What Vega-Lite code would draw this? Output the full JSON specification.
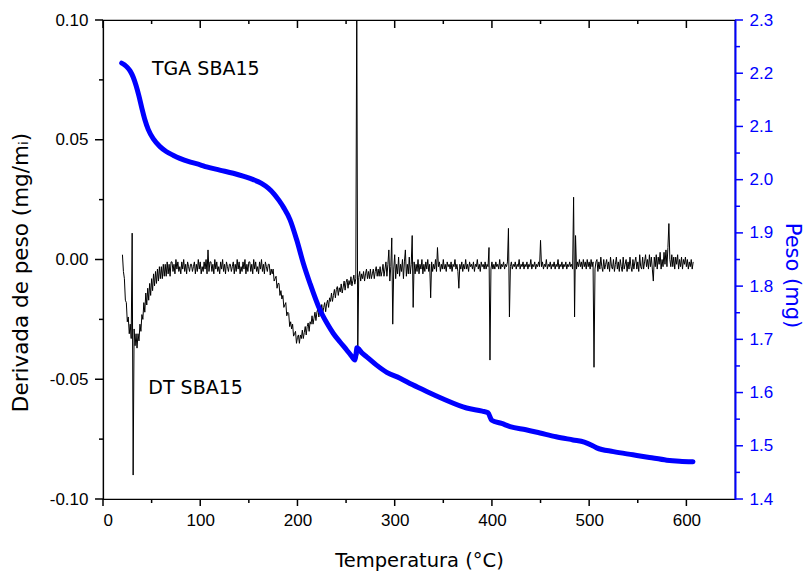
{
  "$schema": "https://vega.github.io/schema/vega-lite/v6.json",
  "width": 632,
  "height": 479,
  "autosize": {"type": "none"},
  "padding": {"left": 103, "top": 20, "right": 69, "bottom": 72},
  "background": "white",
  "config": {
    "view": {"stroke": "black", "strokeWidth": 1.2},
    "axis": {
      "grid": false,
      "ticks": false,
      "labelFont": "Liberation Sans",
      "labelFontSize": 17,
      "titleFont": "DejaVu Sans",
      "titleFontSize": 21,
      "titleFontWeight": "normal",
      "labelColor": "black",
      "titleColor": "black",
      "domainColor": "black",
      "domainWidth": 1.2
    }
  },
  "datasets": {
    "dt": [
      {"t":20,"d":0.002},{"t":21,"d":-0.005},{"t":22,"d":-0.008},{"t":23,"d":-0.017},{"t":24,"d":-0.018},
      {"t":25,"d":-0.026},{"t":26,"d":-0.024},{"t":27,"d":-0.031},{"t":28,"d":-0.027},{"t":29,"d":-0.033},
      {"t":30,"d":0.011},{"t":31,"d":-0.090},{"t":32,"d":-0.029},{"t":33,"d":-0.036},{"t":34,"d":-0.031},
      {"t":35,"d":-0.037},{"t":36,"d":-0.031},{"t":37,"d":-0.034},{"t":38,"d":-0.027},{"t":39,"d":-0.030},
      {"t":40,"d":-0.023},{"t":41,"d":-0.025},{"t":42,"d":-0.018},{"t":43,"d":-0.022},{"t":44,"d":-0.014},
      {"t":45,"d":-0.019},{"t":46,"d":-0.012},{"t":47,"d":-0.017},{"t":48,"d":-0.010},{"t":49,"d":-0.015},
      {"t":50,"d":-0.008},{"t":51,"d":-0.013},{"t":52,"d":-0.006},{"t":53,"d":-0.011},{"t":54,"d":-0.005},
      {"t":55,"d":-0.010},{"t":56,"d":-0.004},{"t":57,"d":-0.009},{"t":58,"d":-0.003},{"t":59,"d":-0.008},
      {"t":60,"d":-0.003},{"t":61,"d":-0.008},{"t":62,"d":-0.002},{"t":63,"d":-0.007},{"t":64,"d":-0.002},
      {"t":65,"d":-0.007},{"t":66,"d":-0.001},{"t":67,"d":-0.006},{"t":68,"d":-0.002},{"t":69,"d":-0.007},
      {"t":70,"d":-0.001},{"t":71,"d":-0.001},{"t":72,"d":-0.005},{"t":73,"d":-0.002},{"t":74,"d":-0.006},
      {"t":75,"d":0.000},{"t":76,"d":-0.004},{"t":77,"d":-0.001},{"t":78,"d":-0.005},{"t":79,"d":-0.003},
      {"t":80,"d":-0.006},{"t":81,"d":-0.001},{"t":82,"d":-0.004},{"t":83,"d":0.000},{"t":84,"d":-0.005},
      {"t":85,"d":-0.002},{"t":86,"d":-0.006},{"t":87,"d":-0.001},{"t":88,"d":-0.003},{"t":89,"d":-0.005},
      {"t":90,"d":-0.002},{"t":91,"d":-0.002},{"t":92,"d":-0.005},{"t":93,"d":-0.003},{"t":94,"d":-0.001},
      {"t":95,"d":-0.006},{"t":96,"d":-0.002},{"t":97,"d":-0.005},{"t":98,"d":0.000},{"t":99,"d":-0.004},
      {"t":100,"d":-0.001},{"t":101,"d":-0.006},{"t":102,"d":-0.003},{"t":103,"d":-0.005},{"t":104,"d":-0.001},
      {"t":105,"d":-0.004},{"t":106,"d":0.000},{"t":107,"d":-0.006},{"t":108,"d":0.004},{"t":109,"d":-0.005},
      {"t":110,"d":-0.001},{"t":111,"d":-0.001},{"t":112,"d":-0.005},{"t":113,"d":-0.002},{"t":114,"d":-0.006},
      {"t":115,"d":0.000},{"t":116,"d":-0.004},{"t":117,"d":-0.001},{"t":118,"d":-0.005},{"t":119,"d":-0.003},
      {"t":120,"d":-0.006},{"t":121,"d":-0.001},{"t":122,"d":-0.004},{"t":123,"d":0.000},{"t":124,"d":-0.005},
      {"t":125,"d":-0.002},{"t":126,"d":-0.006},{"t":127,"d":-0.001},{"t":128,"d":-0.003},{"t":129,"d":-0.005},
      {"t":130,"d":-0.002},{"t":131,"d":-0.002},{"t":132,"d":-0.005},{"t":133,"d":-0.003},{"t":134,"d":-0.001},
      {"t":135,"d":-0.006},{"t":136,"d":-0.002},{"t":137,"d":-0.005},{"t":138,"d":0.000},{"t":139,"d":-0.004},
      {"t":140,"d":-0.001},{"t":141,"d":-0.006},{"t":142,"d":-0.003},{"t":143,"d":-0.005},{"t":144,"d":-0.001},
      {"t":145,"d":-0.004},{"t":146,"d":0.000},{"t":147,"d":-0.006},{"t":148,"d":-0.002},{"t":149,"d":-0.005},
      {"t":150,"d":-0.001},{"t":151,"d":-0.001},{"t":152,"d":-0.005},{"t":153,"d":-0.002},{"t":154,"d":-0.006},
      {"t":155,"d":0.000},{"t":156,"d":-0.004},{"t":157,"d":-0.001},{"t":158,"d":-0.005},{"t":159,"d":-0.003},
      {"t":160,"d":-0.006},{"t":161,"d":-0.001},{"t":162,"d":-0.004},{"t":163,"d":0.000},{"t":164,"d":-0.005},
      {"t":165,"d":-0.002},{"t":166,"d":-0.006},{"t":167,"d":-0.001},{"t":168,"d":-0.003},{"t":169,"d":-0.005},
      {"t":170,"d":-0.002},{"t":171,"d":-0.002},{"t":172,"d":-0.0065},{"t":173,"d":-0.004},{"t":174,"d":-0.006},
      {"t":175,"d":-0.004},{"t":176,"d":-0.009},{"t":177,"d":-0.008},{"t":178,"d":-0.007},{"t":179,"d":-0.012},
      {"t":180,"d":-0.010},{"t":181,"d":-0.010},{"t":182,"d":-0.015},{"t":183,"d":-0.013},{"t":184,"d":-0.0165},
      {"t":185,"d":-0.015},{"t":186,"d":-0.020},{"t":187,"d":-0.019},{"t":188,"d":-0.018},{"t":189,"d":-0.0235},
      {"t":190,"d":-0.022},{"t":191,"d":-0.0225},{"t":192,"d":-0.028},{"t":193,"d":-0.026},{"t":194,"d":-0.029},
      {"t":195,"d":-0.027},{"t":196,"d":-0.032},{"t":197,"d":-0.031},{"t":198,"d":-0.030},{"t":199,"d":-0.035},
      {"t":200,"d":-0.0325},{"t":201,"d":-0.0315},{"t":202,"d":-0.035},{"t":203,"d":-0.0315},{"t":204,"d":-0.033},
      {"t":205,"d":-0.0295},{"t":206,"d":-0.033},{"t":207,"d":-0.0305},{"t":208,"d":-0.028},{"t":209,"d":-0.0315},
      {"t":210,"d":-0.028},{"t":211,"d":-0.0265},{"t":212,"d":-0.030},{"t":213,"d":-0.026},{"t":214,"d":-0.027},
      {"t":215,"d":-0.0235},{"t":216,"d":-0.027},{"t":217,"d":-0.0245},{"t":218,"d":-0.022},{"t":219,"d":-0.0255},
      {"t":220,"d":-0.022},{"t":221,"d":-0.0205},{"t":222,"d":-0.024},{"t":223,"d":-0.0205},{"t":224,"d":-0.022},
      {"t":225,"d":-0.0188},{"t":226,"d":-0.0225},{"t":227,"d":-0.020},{"t":228,"d":-0.018},{"t":229,"d":-0.0218},
      {"t":230,"d":-0.0185},{"t":231,"d":-0.017},{"t":232,"d":-0.020},{"t":233,"d":-0.016},{"t":234,"d":-0.0175},
      {"t":235,"d":-0.014},{"t":236,"d":-0.0175},{"t":237,"d":-0.015},{"t":238,"d":-0.0125},{"t":239,"d":-0.016},
      {"t":240,"d":-0.0125},{"t":241,"d":-0.0113},{"t":242,"d":-0.015},{"t":243,"d":-0.0118},{"t":244,"d":-0.0135},
      {"t":245,"d":-0.0102},{"t":246,"d":-0.014},{"t":247,"d":-0.0115},{"t":248,"d":-0.009},{"t":249,"d":-0.0128},
      {"t":250,"d":-0.0095},{"t":251,"d":-0.0082},{"t":252,"d":-0.012},{"t":253,"d":-0.0088},{"t":254,"d":-0.0105},
      {"t":255,"d":-0.0072},{"t":256,"d":-0.011},{"t":257,"d":-0.0088},{"t":258,"d":-0.0065},{"t":259,"d":-0.0103},
      {"t":260,"d":-0.008},{"t":261,"d":0.11},{"t":262,"d":-0.040},{"t":263,"d":-0.0075},{"t":264,"d":-0.005},
      {"t":265,"d":-0.009},{"t":266,"d":-0.006},{"t":267,"d":-0.008},{"t":268,"d":-0.005},{"t":269,"d":-0.009},
      {"t":270,"d":-0.006},{"t":271,"d":-0.004},{"t":272,"d":-0.008},{"t":273,"d":-0.005},{"t":274,"d":-0.008},
      {"t":275,"d":-0.004},{"t":276,"d":-0.008},{"t":277,"d":-0.006},{"t":278,"d":-0.004},{"t":279,"d":-0.008},
      {"t":280,"d":-0.005},{"t":281,"d":-0.003},{"t":282,"d":-0.007},{"t":283,"d":-0.004},{"t":284,"d":-0.007},
      {"t":285,"d":-0.003},{"t":286,"d":-0.007},{"t":287,"d":-0.005},{"t":288,"d":-0.002},{"t":289,"d":-0.007},
      {"t":290,"d":-0.004},{"t":291,"d":-0.001},{"t":292,"d":-0.007},{"t":293,"d":-0.002},{"t":294,"d":0.004},
      {"t":295,"d":-0.009},{"t":296,"d":-0.003},{"t":297,"d":0.009},{"t":298,"d":-0.027},{"t":299,"d":-0.004},
      {"t":300,"d":0.002},{"t":301,"d":-0.008},{"t":302,"d":-0.002},{"t":303,"d":-0.006},{"t":304,"d":0.001},
      {"t":305,"d":-0.007},{"t":306,"d":-0.002},{"t":307,"d":-0.005},{"t":308,"d":0.000},{"t":309,"d":-0.008},
      {"t":310,"d":-0.001},{"t":311,"d":0.004},{"t":312,"d":-0.007},{"t":313,"d":-0.002},{"t":314,"d":-0.006},
      {"t":315,"d":0.001},{"t":316,"d":-0.006},{"t":317,"d":-0.002},{"t":318,"d":0.010},{"t":319,"d":-0.020},
      {"t":320,"d":-0.001},{"t":321,"d":-0.006},{"t":322,"d":-0.002},{"t":323,"d":-0.005},{"t":324,"d":0.000},
      {"t":325,"d":-0.006},{"t":326,"d":-0.002},{"t":327,"d":-0.004},{"t":328,"d":0.000},{"t":329,"d":-0.006},
      {"t":330,"d":-0.002},{"t":331,"d":-0.005},{"t":332,"d":-0.001},{"t":333,"d":-0.004},{"t":334,"d":0.000},
      {"t":335,"d":-0.005},{"t":336,"d":-0.002},{"t":337,"d":-0.016},{"t":338,"d":-0.001},{"t":339,"d":-0.005},
      {"t":340,"d":-0.002},{"t":341,"d":-0.004},{"t":342,"d":0.000},{"t":343,"d":-0.005},{"t":344,"d":0.005},
      {"t":345,"d":-0.003},{"t":346,"d":-0.001},{"t":347,"d":-0.005},{"t":348,"d":-0.002},{"t":349,"d":-0.004},
      {"t":350,"d":0.000},{"t":351,"d":-0.004},{"t":352,"d":-0.002},{"t":353,"d":-0.005},{"t":354,"d":-0.001},
      {"t":355,"d":-0.003},{"t":356,"d":-0.002},{"t":357,"d":-0.004},{"t":358,"d":-0.001},{"t":359,"d":-0.005},
      {"t":360,"d":-0.002},{"t":361,"d":-0.003},{"t":362,"d":0.000},{"t":363,"d":-0.004},{"t":364,"d":-0.002},
      {"t":365,"d":-0.005},{"t":366,"d":-0.012},{"t":367,"d":-0.002},{"t":368,"d":-0.004},{"t":369,"d":-0.001},
      {"t":370,"d":-0.005},{"t":371,"d":-0.002},{"t":372,"d":-0.004},{"t":373,"d":0.000},{"t":374,"d":-0.004},
      {"t":375,"d":-0.002},{"t":376,"d":-0.005},{"t":377,"d":-0.001},{"t":378,"d":-0.003},{"t":379,"d":-0.002},
      {"t":380,"d":-0.004},{"t":381,"d":-0.001},{"t":382,"d":-0.005},{"t":383,"d":-0.002},{"t":384,"d":-0.003},
      {"t":385,"d":0.000},{"t":386,"d":-0.004},{"t":387,"d":-0.002},{"t":388,"d":-0.005},{"t":389,"d":-0.001},
      {"t":390,"d":-0.003},{"t":391,"d":-0.002},{"t":392,"d":-0.004},{"t":393,"d":-0.001},{"t":394,"d":-0.004},
      {"t":395,"d":-0.002},{"t":396,"d":-0.003},{"t":397,"d":0.005},{"t":398,"d":-0.042},{"t":399,"d":-0.004},
      {"t":400,"d":-0.001},{"t":401,"d":-0.004},{"t":402,"d":-0.002},{"t":403,"d":-0.004},{"t":404,"d":-0.001},
      {"t":405,"d":-0.003},{"t":406,"d":-0.002},{"t":407,"d":-0.004},{"t":408,"d":0.000},{"t":409,"d":-0.004},
      {"t":410,"d":-0.002},{"t":411,"d":-0.003},{"t":412,"d":-0.001},{"t":413,"d":-0.004},{"t":414,"d":-0.002},
      {"t":415,"d":-0.003},{"t":416,"d":-0.001},{"t":417,"d":0.013},{"t":418,"d":-0.024},{"t":419,"d":-0.003},
      {"t":420,"d":-0.001},{"t":421,"d":-0.004},{"t":422,"d":-0.002},{"t":423,"d":-0.003},{"t":424,"d":-0.001},
      {"t":425,"d":-0.004},{"t":426,"d":-0.002},{"t":427,"d":-0.003},{"t":428,"d":0.000},{"t":429,"d":-0.004},
      {"t":430,"d":-0.002},{"t":431,"d":-0.003},{"t":432,"d":-0.001},{"t":433,"d":-0.004},{"t":434,"d":-0.002},
      {"t":435,"d":-0.003},{"t":436,"d":-0.001},{"t":437,"d":-0.004},{"t":438,"d":-0.002},{"t":439,"d":-0.003},
      {"t":440,"d":0.000},{"t":441,"d":-0.004},{"t":442,"d":-0.002},{"t":443,"d":-0.003},{"t":444,"d":-0.001},
      {"t":445,"d":-0.004},{"t":446,"d":-0.002},{"t":447,"d":-0.003},{"t":448,"d":-0.001},{"t":449,"d":-0.003},
      {"t":450,"d":0.008},{"t":451,"d":-0.003},{"t":452,"d":-0.001},{"t":453,"d":-0.004},{"t":454,"d":-0.002},
      {"t":455,"d":-0.003},{"t":456,"d":0.000},{"t":457,"d":-0.004},{"t":458,"d":-0.002},{"t":459,"d":-0.003},
      {"t":460,"d":-0.001},{"t":461,"d":-0.004},{"t":462,"d":-0.002},{"t":463,"d":-0.003},{"t":464,"d":-0.001},
      {"t":465,"d":-0.004},{"t":466,"d":-0.002},{"t":467,"d":-0.003},{"t":468,"d":0.000},{"t":469,"d":-0.004},
      {"t":470,"d":-0.002},{"t":471,"d":-0.003},{"t":472,"d":-0.001},{"t":473,"d":-0.004},{"t":474,"d":-0.002},
      {"t":475,"d":-0.003},{"t":476,"d":-0.001},{"t":477,"d":-0.004},{"t":478,"d":-0.002},{"t":479,"d":-0.003},
      {"t":480,"d":-0.001},{"t":481,"d":-0.003},{"t":482,"d":-0.002},{"t":483,"d":-0.004},{"t":484,"d":0.026},
      {"t":485,"d":-0.024},{"t":486,"d":0.010},{"t":487,"d":-0.004},{"t":488,"d":-0.001},{"t":489,"d":-0.003},
      {"t":490,"d":0.000},{"t":491,"d":-0.003},{"t":492,"d":-0.001},{"t":493,"d":-0.004},{"t":494,"d":0.000},
      {"t":495,"d":-0.003},{"t":496,"d":-0.001},{"t":497,"d":-0.004},{"t":498,"d":0.000},{"t":499,"d":-0.003},
      {"t":500,"d":-0.001},{"t":501,"d":-0.004},{"t":502,"d":0.000},{"t":503,"d":-0.003},{"t":504,"d":-0.001},
      {"t":505,"d":-0.045},{"t":506,"d":-0.004},{"t":507,"d":-0.001},{"t":508,"d":0.000},{"t":509,"d":-0.005},
      {"t":510,"d":-0.001},{"t":511,"d":-0.004},{"t":512,"d":0.001},{"t":513,"d":-0.003},{"t":514,"d":-0.005},
      {"t":515,"d":0.000},{"t":516,"d":-0.004},{"t":517,"d":-0.002},{"t":518,"d":0.000},{"t":519,"d":-0.004},
      {"t":520,"d":-0.001},{"t":521,"d":-0.005},{"t":522,"d":0.001},{"t":523,"d":-0.003},{"t":524,"d":-0.004},
      {"t":525,"d":0.000},{"t":526,"d":-0.005},{"t":527,"d":-0.002},{"t":528,"d":0.001},{"t":529,"d":-0.004},
      {"t":530,"d":-0.001},{"t":531,"d":-0.005},{"t":532,"d":0.000},{"t":533,"d":-0.003},{"t":534,"d":-0.005},
      {"t":535,"d":0.001},{"t":536,"d":-0.004},{"t":537,"d":-0.002},{"t":538,"d":0.000},{"t":539,"d":-0.005},
      {"t":540,"d":-0.001},{"t":541,"d":-0.004},{"t":542,"d":0.001},{"t":543,"d":-0.003},{"t":544,"d":-0.005},
      {"t":545,"d":0.000},{"t":546,"d":-0.004},{"t":547,"d":-0.001},{"t":548,"d":0.001},{"t":549,"d":-0.004},
      {"t":550,"d":-0.001},{"t":551,"d":-0.005},{"t":552,"d":0.002},{"t":553,"d":-0.003},{"t":554,"d":-0.004},
      {"t":555,"d":0.001},{"t":556,"d":-0.004},{"t":557,"d":-0.001},{"t":558,"d":0.002},{"t":559,"d":-0.003},
      {"t":560,"d":0.000},{"t":561,"d":-0.004},{"t":562,"d":0.002},{"t":563,"d":-0.003},{"t":564,"d":0.001},
      {"t":565,"d":-0.004},{"t":566,"d":-0.009},{"t":567,"d":0.001},{"t":568,"d":-0.003},{"t":569,"d":0.002},
      {"t":570,"d":-0.004},{"t":571,"d":0.001},{"t":572,"d":-0.002},{"t":573,"d":0.003},{"t":574,"d":-0.004},
      {"t":575,"d":0.000},{"t":576,"d":-0.003},{"t":577,"d":0.003},{"t":578,"d":-0.002},{"t":579,"d":0.004},
      {"t":580,"d":-0.003},{"t":581,"d":0.005},{"t":582,"d":0.015},{"t":583,"d":0.000},{"t":584,"d":-0.003},
      {"t":585,"d":0.002},{"t":586,"d":-0.003},{"t":587,"d":0.001},{"t":588,"d":-0.004},{"t":589,"d":0.001},
      {"t":590,"d":-0.002},{"t":591,"d":0.002},{"t":592,"d":-0.004},{"t":593,"d":0.000},{"t":594,"d":-0.003},
      {"t":595,"d":0.001},{"t":596,"d":-0.004},{"t":597,"d":0.000},{"t":598,"d":-0.002},{"t":599,"d":0.001},
      {"t":600,"d":-0.003},{"t":601,"d":0.000},{"t":602,"d":-0.004},{"t":603,"d":-0.001},{"t":604,"d":-0.003},
      {"t":605,"d":0.000},{"t":606,"d":-0.004},{"t":607,"d":-0.001}
    ],
    "tga": [
      {"t":19.2,"w":2.219},{"t":22,"w":2.216},{"t":25,"w":2.211},{"t":28,"w":2.204},{"t":31,"w":2.193},
      {"t":34,"w":2.177},{"t":37,"w":2.157},{"t":40,"w":2.134},{"t":43,"w":2.113},{"t":46.6,"w":2.094},
      {"t":52,"w":2.076},{"t":58.6,"w":2.062},{"t":65,"w":2.053},{"t":72,"w":2.046},{"t":79,"w":2.040},
      {"t":90,"w":2.033},{"t":100,"w":2.028},{"t":106.6,"w":2.024},{"t":120,"w":2.018},{"t":134,"w":2.012},
      {"t":145,"w":2.006},{"t":154.6,"w":2.000},{"t":163,"w":1.993},{"t":170,"w":1.984},{"t":176,"w":1.973},
      {"t":181,"w":1.961},{"t":186,"w":1.947},{"t":192.3,"w":1.925},{"t":199.2,"w":1.887},{"t":206,"w":1.843},
      {"t":212.9,"w":1.805},{"t":223.2,"w":1.755},{"t":230.4,"w":1.730},{"t":236.9,"w":1.711},{"t":243.8,"w":1.695},
      {"t":250.6,"w":1.680},{"t":255,"w":1.670},{"t":259.2,"w":1.661},{"t":260.2,"w":1.672},{"t":261.2,"w":1.684},
      {"t":266,"w":1.675},{"t":271.2,"w":1.667},{"t":281,"w":1.652},{"t":291.8,"w":1.638},{"t":305.5,"w":1.627},
      {"t":318,"w":1.615},{"t":332.9,"w":1.602},{"t":350,"w":1.588},{"t":374,"w":1.571},{"t":390,"w":1.565},
      {"t":396,"w":1.562},{"t":399.8,"w":1.548},{"t":410,"w":1.542},{"t":418.6,"w":1.536},{"t":435,"w":1.530},
      {"t":449.4,"w":1.524},{"t":466,"w":1.517},{"t":483.4,"w":1.511},{"t":495,"w":1.507},{"t":502.6,"w":1.501},
      {"t":507.8,"w":1.496},{"t":525,"w":1.489},{"t":545,"w":1.483},{"t":562,"w":1.478},{"t":579.8,"w":1.473},
      {"t":593,"w":1.471},{"t":606.8,"w":1.470}
    ],
    "xmajor": [{"v":0},{"v":100},{"v":200},{"v":300},{"v":400},{"v":500},{"v":600}],
    "xminor": [{"v":50},{"v":150},{"v":250},{"v":350},{"v":450},{"v":550}],
    "lmajor": [{"v":-0.1},{"v":-0.05},{"v":0},{"v":0.05},{"v":0.1}],
    "lminor": [{"v":-0.075},{"v":-0.025},{"v":0.025},{"v":0.075}],
    "rmajor": [{"v":1.4},{"v":1.5},{"v":1.6},{"v":1.7},{"v":1.8},{"v":1.9},{"v":2.0},{"v":2.1},{"v":2.2},{"v":2.3}],
    "rminor": [{"v":1.45},{"v":1.55},{"v":1.65},{"v":1.75},{"v":1.85},{"v":1.95},{"v":2.05},{"v":2.15},{"v":2.25}]
  },
  "layer": [
    {
      "data": {"name": "dt"},
      "mark": {"type": "line", "color": "black", "strokeWidth": 1, "clip": true},
      "encoding": {
        "x": {
          "field": "t", "type": "quantitative",
          "scale": {"domain": [0, 650], "nice": false},
          "axis": {
            "orient": "bottom",
            "values": [0,100,200,300,400,500,600],
            "labelPadding": 13,
            "title": "Temperatura (°C)",
            "titleFontSize": 19.5,
            "titleBaseline": "alphabetic",
            "titleY": 67
          }
        },
        "y": {
          "field": "d", "type": "quantitative",
          "scale": {"domain": [-0.1, 0.1], "nice": false},
          "axis": {
            "orient": "left",
            "values": [-0.1,-0.05,0,0.05,0.1],
            "labelExpr": "replace(format(datum.value, '.2f'), '\u2212', '-')",
            "labelPadding": 15,
            "title": "Derivada de peso (mg/m\u1d62)",
            "titleFontSize": 21.5,
            "titleBaseline": "alphabetic",
            "titleX": -76,
            "titleY": 252
          }
        }
      }
    },
    {
      "data": {"name": "tga"},
      "mark": {"type": "line", "color": "#0000ff", "strokeWidth": 5, "strokeCap": "round", "strokeJoin": "round", "interpolate": "monotone"},
      "encoding": {
        "x": {
          "field": "t", "type": "quantitative",
          "scale": {"domain": [0, 650], "nice": false},
          "axis": null
        },
        "y": {
          "field": "w", "type": "quantitative",
          "scale": {"domain": [1.4, 2.3], "nice": false},
          "axis": {
            "orient": "right",
            "values": [1.4,1.5,1.6,1.7,1.8,1.9,2.0,2.1,2.2,2.3],
            "format": ".1f",
            "labelPadding": 14,
            "domainColor": "#0000ff",
            "domainWidth": 2,
            "labelColor": "#0000ff",
            "titleColor": "#0000ff",
            "title": "Peso (mg)",
            "titleBaseline": "alphabetic",
            "titleX": 50,
            "titleY": 255
          }
        }
      }
    },
    {
      "data": {"name": "xmajor"},
      "mark": {"type": "rule", "color": "black", "strokeWidth": 1.5},
      "encoding": {
        "x": {"field": "v", "type": "quantitative", "axis": null},
        "y": {"datum": -0.1, "type": "quantitative", "scale": {"domain": [-0.1, 0.1], "nice": false}, "axis": null},
        "y2": {"datum": -0.10292}
      }
    },
    {
      "data": {"name": "xminor"},
      "mark": {"type": "rule", "color": "black", "strokeWidth": 1.5},
      "encoding": {
        "x": {"field": "v", "type": "quantitative", "axis": null},
        "y": {"datum": -0.1, "type": "quantitative", "scale": {"domain": [-0.1, 0.1], "nice": false}, "axis": null},
        "y2": {"datum": -0.10167}
      }
    },
    {
      "data": {"name": "xmajor"},
      "mark": {"type": "rule", "color": "black", "strokeWidth": 1.5},
      "encoding": {
        "x": {"field": "v", "type": "quantitative", "axis": null},
        "y": {"datum": 0.1, "type": "quantitative", "scale": {"domain": [-0.1, 0.1], "nice": false}, "axis": null},
        "y2": {"datum": 0.09666}
      }
    },
    {
      "data": {"name": "xminor"},
      "mark": {"type": "rule", "color": "black", "strokeWidth": 1.5},
      "encoding": {
        "x": {"field": "v", "type": "quantitative", "axis": null},
        "y": {"datum": 0.1, "type": "quantitative", "scale": {"domain": [-0.1, 0.1], "nice": false}, "axis": null},
        "y2": {"datum": 0.09833}
      }
    },
    {
      "data": {"name": "lmajor"},
      "mark": {"type": "rule", "color": "black", "strokeWidth": 1.5},
      "encoding": {
        "y": {"field": "v", "type": "quantitative", "scale": {"domain": [-0.1, 0.1], "nice": false}, "axis": null},
        "x": {"datum": 0, "type": "quantitative", "axis": null},
        "x2": {"datum": -8.2}
      }
    },
    {
      "data": {"name": "lminor"},
      "mark": {"type": "rule", "color": "black", "strokeWidth": 1.5},
      "encoding": {
        "y": {"field": "v", "type": "quantitative", "scale": {"domain": [-0.1, 0.1], "nice": false}, "axis": null},
        "x": {"datum": 0, "type": "quantitative", "axis": null},
        "x2": {"datum": -4.1}
      }
    },
    {
      "data": {"name": "rmajor"},
      "mark": {"type": "rule", "color": "#0000ff", "strokeWidth": 1.5},
      "encoding": {
        "y": {"field": "v", "type": "quantitative", "scale": {"domain": [1.4, 2.3], "nice": false}, "axis": null},
        "x": {"datum": 650, "type": "quantitative", "axis": null},
        "x2": {"datum": 658.2}
      }
    },
    {
      "data": {"name": "rminor"},
      "mark": {"type": "rule", "color": "#0000ff", "strokeWidth": 1.5},
      "encoding": {
        "y": {"field": "v", "type": "quantitative", "scale": {"domain": [1.4, 2.3], "nice": false}, "axis": null},
        "x": {"datum": 650, "type": "quantitative", "axis": null},
        "x2": {"datum": 655.1}
      }
    },
    {
      "data": {"values": [{}]},
      "mark": {"type": "text", "align": "left", "baseline": "middle", "font": "DejaVu Sans", "fontSize": 19, "color": "black"},
      "encoding": {
        "x": {"datum": 50.4, "type": "quantitative", "axis": null},
        "y": {"datum": 0.0797, "type": "quantitative", "scale": {"domain": [-0.1, 0.1], "nice": false}, "axis": null},
        "text": {"value": "TGA SBA15"}
      }
    },
    {
      "data": {"values": [{}]},
      "mark": {"type": "text", "align": "left", "baseline": "middle", "font": "DejaVu Sans", "fontSize": 19, "color": "black"},
      "encoding": {
        "x": {"datum": 46.6, "type": "quantitative", "axis": null},
        "y": {"datum": -0.0538, "type": "quantitative", "scale": {"domain": [-0.1, 0.1], "nice": false}, "axis": null},
        "text": {"value": "DT SBA15"}
      }
    }
  ],
  "resolve": {"scale": {"y": "independent"}, "axis": {"x": "independent", "y": "independent"}}
}
